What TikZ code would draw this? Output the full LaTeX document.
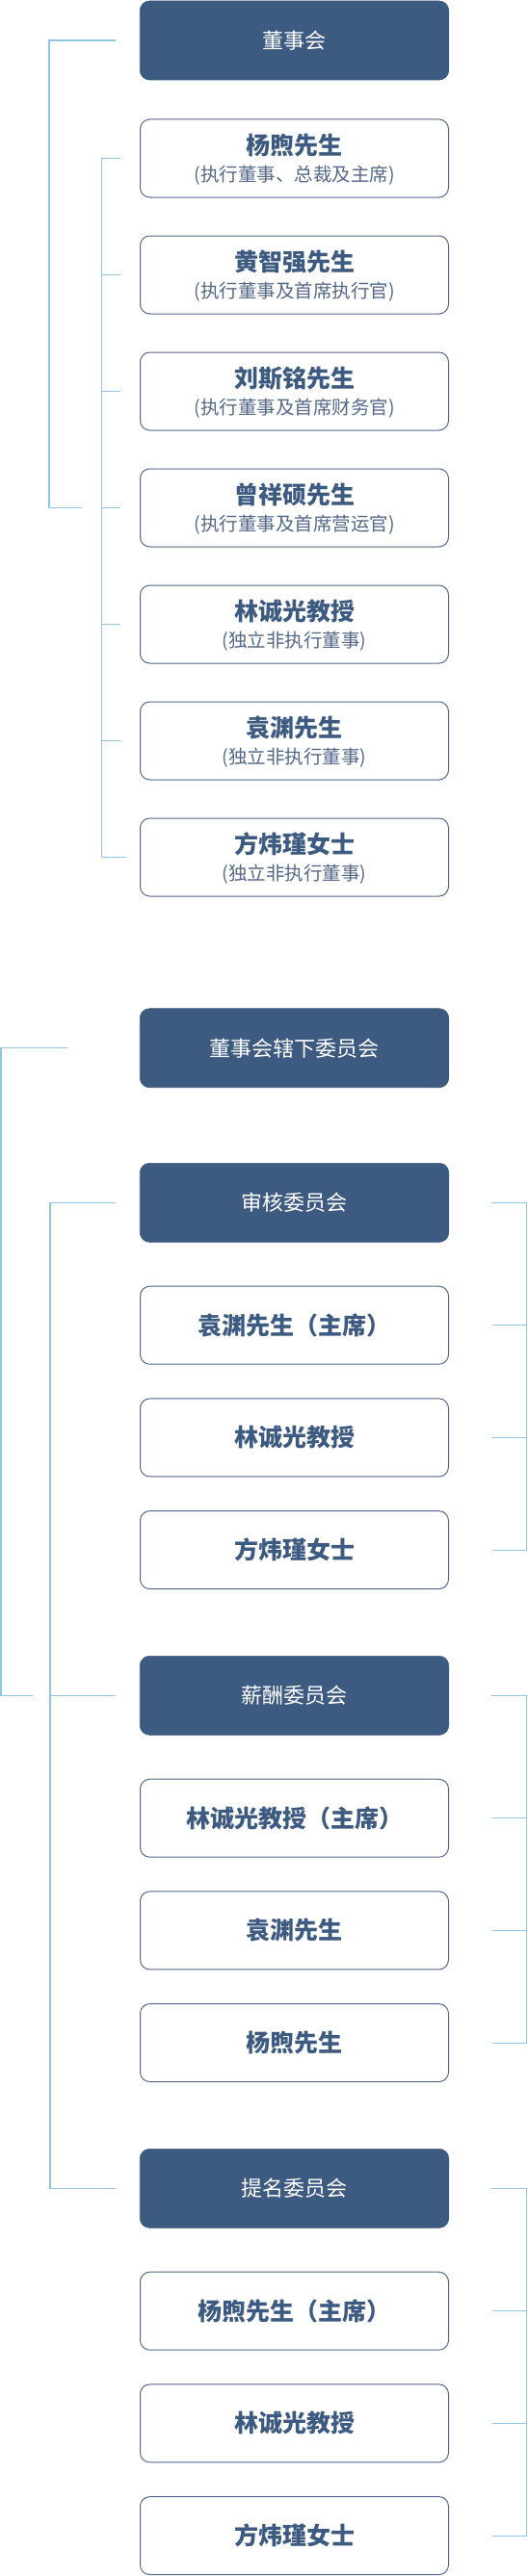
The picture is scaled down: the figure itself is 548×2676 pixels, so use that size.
\documentclass[tikz,border=0pt]{standalone}
\usepackage{fontspec}
\setmainfont{Noto Sans CJK SC}
\usetikzlibrary{calc}
\definecolor{navy}{RGB}{61,90,128}
\definecolor{subc}{RGB}{84,104,136}
\definecolor{bord}{RGB}{82,104,140}
\definecolor{lnc}{RGB}{146,196,221}
\tikzset{
  darkbox/.style={fill=navy, draw=navy, line width=0.6pt, rounded corners=10pt,
    minimum width=320.5pt, minimum height=82pt, text=white,
    font=\fontsize{22}{26}\selectfont},
  membox/.style={draw=bord, line width=1pt, fill=white, rounded corners=10pt,
    minimum width=320pt, minimum height=81pt},
  nametext/.style={text=navy, font=\fontsize{25}{30}\selectfont\bfseries},
  subtext/.style={text=subc, font=\fontsize{19.5}{24}\selectfont},
  link/.style={draw=lnc, line width=1.2pt},
}
\begin{document}
\begin{tikzpicture}[x=1pt,y=-1pt, every node/.style={inner sep=0pt, outer sep=0pt}]
\useasboundingbox (0,0) rectangle (548,2676);

% ---- Board ----
\node[darkbox] (board) at (305.5,42) {董事会};

\node[membox] (d1) at (305.5,164.5) {};
\node[membox] (d2) at (305.5,285.5) {};
\node[membox] (d3) at (305.5,406.5) {};
\node[membox] (d4) at (305.5,527.5) {};
\node[membox] (d5) at (305.5,648.5) {};
\node[membox] (d6) at (305.5,769.5) {};
\node[membox] (d7) at (305.5,890.5) {};

\node[nametext] (n1) at ($(d1.center)+(0,-13.3)$) {杨煦先生};
\node[subtext]  (s1) at ($(d1.center)+(0,17.2)$) {(执行董事、总裁及主席)};
\node[nametext] (n2) at ($(d2.center)+(0,-13.3)$) {黄智强先生};
\node[subtext]  (s2) at ($(d2.center)+(0,17.2)$) {(执行董事及首席执行官)};
\node[nametext] (n3) at ($(d3.center)+(0,-13.3)$) {刘斯铭先生};
\node[subtext]  (s3) at ($(d3.center)+(0,17.2)$) {(执行董事及首席财务官)};
\node[nametext] (n4) at ($(d4.center)+(0,-13.3)$) {曾祥硕先生};
\node[subtext]  (s4) at ($(d4.center)+(0,17.2)$) {(执行董事及首席营运官)};
\node[nametext] (n5) at ($(d5.center)+(0,-13.3)$) {林诚光教授};
\node[subtext]  (s5) at ($(d5.center)+(0,17.2)$) {(独立非执行董事)};
\node[nametext] (n6) at ($(d6.center)+(0,-13.3)$) {袁渊先生};
\node[subtext]  (s6) at ($(d6.center)+(0,17.2)$) {(独立非执行董事)};
\node[nametext] (n7) at ($(d7.center)+(0,-13.3)$) {方炜瑾女士};
\node[subtext]  (s7) at ($(d7.center)+(0,17.2)$) {(独立非执行董事)};

% board brackets
\draw[link] ($(board.west)+(-25,0)$) -| ($(d4.west)+(-94.5,0)$) -- ($(d4.west)+(-61,0)$);
\draw[link] ($(d1.west)+(-21,0)$) -| ($(d7.west)+(-40.3,0)$) -- ($(d7.west)+(-15,0)$);
\foreach \i in {2,...,6}
  \draw[link] ($(d\i.west)+(-40.3,0)$) -- ($(d\i.west)+(-21,0)$);

% ---- Committees ----
\node[darkbox] (sub) at (305.5,1088.7) {董事会辖下委员会};

\node[darkbox] (aud) at (305.5,1249.3) {审核委员会};
\node[membox, nametext] (a1) at (305.5,1376.7) {袁渊先生（主席）};
\node[membox, nametext] (a2) at (305.5,1493.4) {林诚光教授};
\node[membox, nametext] (a3) at (305.5,1610.1) {方炜瑾女士};

\node[darkbox] (rem) at (305.5,1761.3) {薪酬委员会};
\node[membox, nametext] (r1) at (305.5,1888.7) {林诚光教授（主席）};
\node[membox, nametext] (r2) at (305.5,2005.4) {袁渊先生};
\node[membox, nametext] (r3) at (305.5,2122.1) {杨煦先生};

\node[darkbox] (nom) at (305.5,2273.3) {提名委员会};
\node[membox, nametext] (m1) at (305.5,2400.7) {杨煦先生（主席）};
\node[membox, nametext] (m2) at (305.5,2517.4) {林诚光教授};
\node[membox, nametext] (m3) at (305.5,2634.1) {方炜瑾女士};

% left brackets
\draw[link] ($(sub.west)+(-75,0)$) -| ($(rem.west)+(-144.35,0)$) -- ($(rem.west)+(-111.3,0)$);
\draw[link] ($(aud.west)+(-25,0)$) -| ($(nom.west)+(-93.3,0)$) -- ($(nom.west)+(-25,0)$);
\draw[link] ($(rem.west)+(-93.3,0)$) -- ($(rem.west)+(-25,0)$);

% right brackets
\draw[link] ($(aud.east)+(44.3,0)$) -| ($(a3.east)+(81.3,0)$) -- ($(a3.east)+(45,0)$);
\draw[link] ($(a1.east)+(45,0)$) -- ($(a1.east)+(81.3,0)$);
\draw[link] ($(a2.east)+(45,0)$) -- ($(a2.east)+(81.3,0)$);

\draw[link] ($(rem.east)+(44.3,0)$) -| ($(r3.east)+(81.3,0)$) -- ($(r3.east)+(45,0)$);
\draw[link] ($(r1.east)+(45,0)$) -- ($(r1.east)+(81.3,0)$);
\draw[link] ($(r2.east)+(45,0)$) -- ($(r2.east)+(81.3,0)$);

\draw[link] ($(nom.east)+(44.3,0)$) -| ($(m3.east)+(81.3,0)$) -- ($(m3.east)+(45,0)$);
\draw[link] ($(m1.east)+(45,0)$) -- ($(m1.east)+(81.3,0)$);
\draw[link] ($(m2.east)+(45,0)$) -- ($(m2.east)+(81.3,0)$);
\end{tikzpicture}
\end{document}
